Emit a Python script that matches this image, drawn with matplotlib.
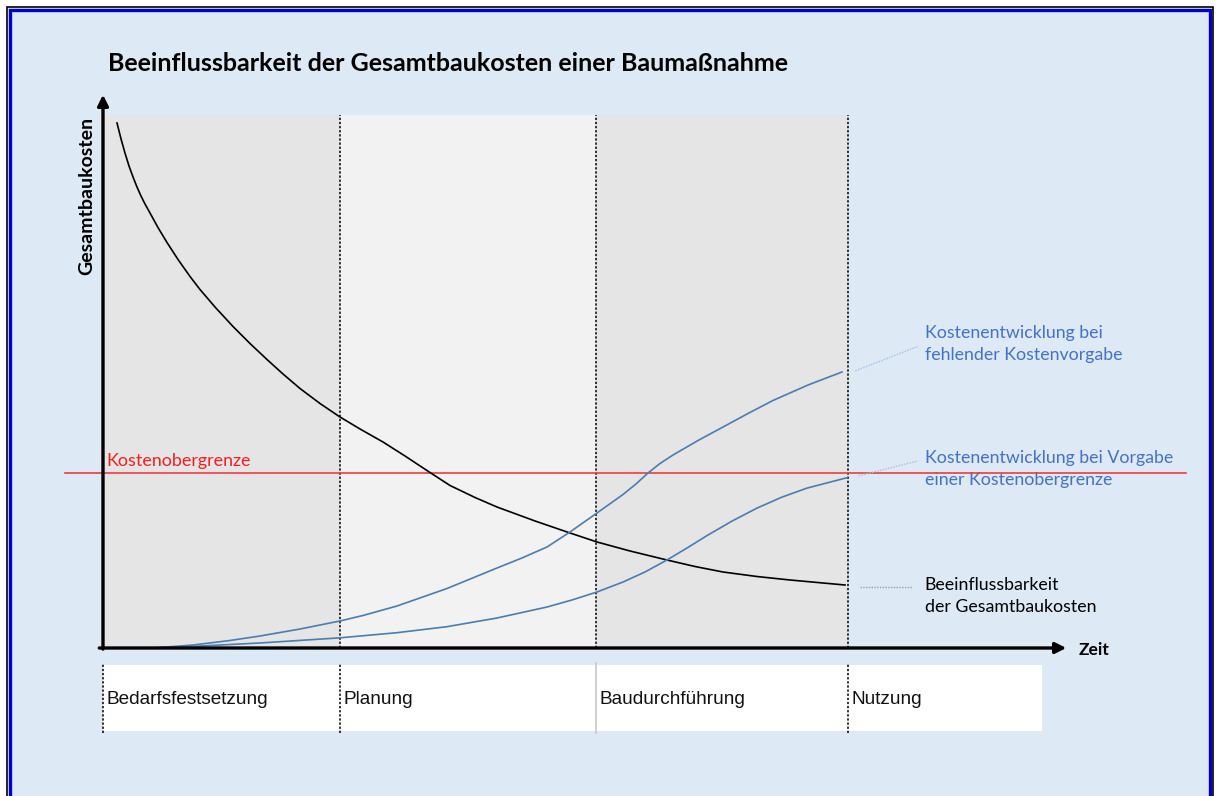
import matplotlib
matplotlib.use('Agg')
import matplotlib.pyplot as plt
from matplotlib.patches import Rectangle

# ---------------- data ----------------
title = 'Beeinflussbarkeit der Gesamtbaukosten einer Baumaßnahme'
phase_names = ['Bedarfsfestsetzung', 'Planung', 'Baudurchführung', 'Nutzung']
phase_bounds = [0.0, 3.18, 6.62, 10.0]
kosten_grenze = 32.8

t_einfluss = [0.188, 0.242, 0.295, 0.349, 0.403, 0.456, 0.510, 0.564, 0.631,
              0.738, 0.859, 1.007, 1.168, 1.302, 1.503, 1.745, 1.973, 2.201,
              2.416, 2.644, 2.913, 3.181, 3.450, 3.758, 4.054, 4.389, 4.658,
              4.993, 5.289, 5.799, 6.268, 6.631, 7.074, 7.570, 7.946, 8.322,
              8.779, 9.221, 9.960]
v_einfluss = [98.50, 95.50, 92.87, 90.43, 88.37, 86.49, 84.80, 83.30, 81.61,
              78.89, 76.08, 72.89, 69.70, 67.26, 63.98, 60.32, 57.13, 54.13,
              51.41, 48.69, 45.87, 43.34, 41.09, 38.65, 36.02, 32.93, 30.49,
              28.24, 26.45, 23.83, 21.58, 19.89, 18.20, 16.51, 15.29, 14.26,
              13.41, 12.76, 11.82]

t_fehlend = [0.671, 1.208, 1.705, 2.107, 2.644, 3.181, 3.490, 3.946, 4.617,
             5.289, 5.624, 5.960, 6.268, 6.631, 6.980, 7.154, 7.315, 7.477,
             7.651, 7.987, 8.322, 8.658, 8.993, 9.463, 9.919]
v_fehlend = [0.0, 0.56, 1.41, 2.25, 3.56, 5.07, 6.10, 7.88, 11.16,
             15.01, 16.89, 18.95, 21.76, 25.33, 28.80, 30.77, 32.83, 34.62,
             36.21, 38.93, 41.46, 44.00, 46.44, 49.34, 51.78]

t_vorgabe = [0.671, 1.208, 2.107, 3.181, 3.946, 4.617, 5.289, 5.960, 6.295,
             6.631, 6.980, 7.275, 7.570, 7.839, 8.107, 8.443, 8.779, 9.114,
             9.450, 9.987]
v_vorgabe = [0.0, 0.30, 0.94, 1.91, 2.87, 4.00, 5.63, 7.69, 9.01,
             10.51, 12.38, 14.26, 16.51, 18.76, 21.09, 23.81, 26.25, 28.31,
             30.00, 31.95]

label_fehlend = 'Kostenentwicklung bei\nfehlender Kostenvorgabe'
label_vorgabe = 'Kostenentwicklung bei Vorgabe\neiner Kostenobergrenze'
label_einfluss = 'Beeinflussbarkeit\nder Gesamtbaukosten'
label_grenze = 'Kostenobergrenze'

# ---------------- figure ----------------
W, H = 1216, 796
fig = plt.figure(figsize=(W / 100, H / 100), dpi=100)
fig.patch.set_facecolor('white')

def fx(px):
    return px / W

def fy(py):
    return (H - py) / H

# frame (behind the axes)
fig.patches.append(Rectangle((fx(8), fy(800)), fx(1211) - fx(8), fy(8) - fy(800),
                             transform=fig.transFigure, facecolor='#DDE9F5',
                             edgecolor='none', zorder=-10))
fig.patches.append(Rectangle((fx(6.5), fy(802)), fx(1213) - fx(6.5), fy(6.5) - fy(802),
                             transform=fig.transFigure, facecolor='none',
                             edgecolor='black', lw=1.2, zorder=-9))
fig.patches.append(Rectangle((fx(10), fy(802)), fx(1210) - fx(10), fy(10) - fy(802),
                             transform=fig.transFigure, facecolor='none',
                             edgecolor='#0000C8', lw=2.4, zorder=-9))

ax = fig.add_axes([0, 0, 1, 1], zorder=5)
ax.patch.set_visible(False)
X0, SX = 103, 74.5
Y0, SY = 648, 5.33
ax.set_xlim(-X0 / SX, (W - X0) / SX)
ax.set_ylim((Y0 - H) / SY, Y0 / SY)
ax.axis('off')

CAL = ['Lato', 'DejaVu Sans']
ARI = ['Liberation Sans', 'DejaVu Sans']

# phase bands
band_cols = ['#E5E5E5', '#F2F2F2', '#E5E5E5']
for i, c in enumerate(band_cols):
    ax.fill_between([phase_bounds[i], phase_bounds[i + 1]], 0, 100,
                    color=c, lw=0, zorder=1)

# phase separators in plot
for b in phase_bounds[1:]:
    ax.plot([b, b], [0, 100], color='black', lw=1.1,
            ls=(0, (1.5, 1.2)), zorder=2)

# label strip
ax.fill_between([0, 12.60], -15.57, -3.19, color='white', lw=0, zorder=1)
for i, b in enumerate(phase_bounds):
    if i == 2:
        ax.plot([b, b], [-15.9, -2.8], color='#C8C8C8', lw=1.2, zorder=2)
    else:
        ax.plot([b, b], [-15.9, -2.8], color='black', lw=1.1,
                ls=(0, (1.5, 1.2)), zorder=2)
    ax.text(b + 0.05, -9.6, phase_names[i], fontsize=13.7, family=ARI,
            ha='left', va='center', color='#111111', zorder=3)

# cost cap line
ax.plot([-0.51, 14.54], [kosten_grenze, kosten_grenze], color='#F03C3C',
        lw=1.2, zorder=4)
ax.text(0.05, kosten_grenze + 0.8, label_grenze, color='#F02020', fontsize=12.9,
        family=CAL, ha='left', va='bottom', zorder=5)

# curves
ax.plot(t_einfluss, v_einfluss, color='black', lw=1.2, zorder=5,
        solid_joinstyle='round')
ax.plot(t_fehlend, v_fehlend, color='#4A7DB0', lw=1.2, zorder=5,
        solid_joinstyle='round')
ax.plot(t_vorgabe, v_vorgabe, color='#4A7DB0', lw=1.2, zorder=5,
        solid_joinstyle='round')

# axes arrows
ax.annotate('', xy=(0, 103.8), xytext=(0, -0.2),
            arrowprops=dict(arrowstyle='-|>', lw=2.4, color='black',
                            mutation_scale=16, shrinkA=0, shrinkB=0), zorder=6)
ax.annotate('', xy=(12.93, 0), xytext=(-0.05, 0),
            arrowprops=dict(arrowstyle='-|>', lw=2.4, color='black',
                            mutation_scale=16, shrinkA=0, shrinkB=0), zorder=6)

ax.text(13.1, -0.3, 'Zeit', fontsize=12.5, fontweight='bold', family=CAL,
        ha='left', va='center')
ax.text(-0.22, 84.8, 'Gesamtbaukosten', fontsize=14, fontweight='bold',
        family=CAL, rotation=90, ha='center', va='center')
ax.text(0.07, 109.7, title, fontsize=18, fontweight='bold', family=CAL,
        ha='left', va='center')

# annotations with leader lines
ax.plot([10.10, 10.94], [52.0, 56.6], color='#9DC3E6', lw=1.0,
        ls=(0, (1, 1)), zorder=4)
ax.plot([10.14, 10.94], [32.3, 35.1], color='#9DC3E6', lw=1.0,
        ls=(0, (1, 1)), zorder=4)
ax.plot([10.16, 10.86], [11.5, 11.5], color='#A0A0A0', lw=1.0,
        ls=(0, (1, 1)), zorder=4)

ax.text(11.03, 57.0, label_fehlend, color='#4472C4', fontsize=12.8,
        family=CAL, ha='left', va='center', linespacing=1.5)
ax.text(11.03, 33.6, label_vorgabe, color='#4472C4', fontsize=12.8,
        family=CAL, ha='left', va='center', linespacing=1.5)
ax.text(11.03, 9.8, label_einfluss, color='black', fontsize=12.8,
        family=CAL, ha='left', va='center', linespacing=1.5)

fig.savefig('out.png', dpi=100, facecolor=fig.get_facecolor())
